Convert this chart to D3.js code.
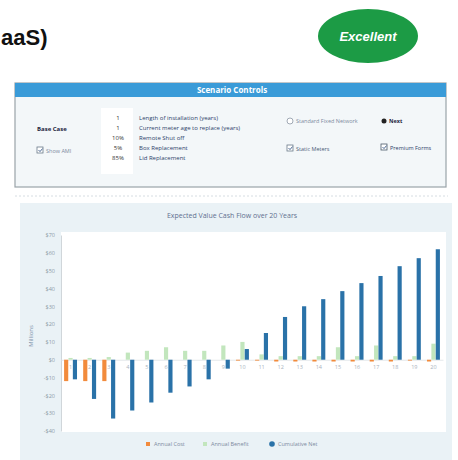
<!DOCTYPE html>
<html><head><meta charset="utf-8">
<script src="https://cdn.jsdelivr.net/npm/d3@7"></script>
<style>
html,body{margin:0;padding:0;background:#fff;}
svg{display:block;}
</style></head>
<body>
<svg id="c" width="458" height="460"></svg>
<script>
// ---- data ----
const years = d3.range(1, 21).map(String);
const annualCost    = [-12,-12,-12,0,0,0,0,0,0,-0.5,-0.5,-1,-1,-1,-1,-1,-1,-1,-0.5,-1];
const annualBenefit = [1,1,1.5,4,5,7,5,5,8,10,3,2,2,2,7,2,8,2,2,9];
const cumulativeNet = [-11,-22,-33,-28.5,-24,-18.5,-15,-11,-5,6,15,24,30,34,38.5,43,47,52.5,57,62];
const yTicks = [70,60,50,40,30,20,10,0,-10,-20,-30,-40];
const seriesNames = ["Annual Cost","Annual Benefit","Cumulative Net"];
const seriesColors = ["#f28b3c","#c2e6bd","#2a72a8"];
const controlRows = [
  ["1","Length of installation (years)"],
  ["1","Current meter age to replace (years)"],
  ["10%","Remote Shut off"],
  ["5%","Box Replacement"],
  ["85%","Lid Replacement"]
];

const svg = d3.select("#c");
const ui = "'Open Sans', 'Noto Sans', sans-serif";

// ---- header ----
svg.append("text").attr("x",1).attr("y",45).text("aaS)")
  .attr("font-family","'Liberation Sans', Arial, sans-serif").attr("font-weight","bold")
  .attr("font-size",22).attr("fill","#111");
svg.append("ellipse").attr("cx",368).attr("cy",36).attr("rx",50).attr("ry",27).attr("fill","#1c9b45");
svg.append("text").attr("x",368).attr("y",41).attr("text-anchor","middle").text("Excellent")
  .attr("font-family","'Liberation Sans', Arial, sans-serif").attr("font-weight","bold").attr("font-style","italic")
  .attr("font-size",13).attr("fill","#fff");

// ---- scenario controls panel ----
const p = svg.append("g");
p.append("rect").attr("x",15).attr("y",83).attr("width",431).attr("height",104)
  .attr("fill","#f3f7f9").attr("stroke","#9aa3a8").attr("stroke-width",1.2);
p.append("rect").attr("x",15).attr("y",83).attr("width",431).attr("height",14).attr("fill","#3a9bd8");
p.append("text").attr("x",232).attr("y",93).attr("text-anchor","middle").text("Scenario Controls")
  .attr("font-family",ui).attr("font-weight","bold").attr("font-size",8).attr("fill","#fff");
p.append("rect").attr("x",101).attr("y",108).attr("width",32).attr("height",66).attr("fill","#fff");
controlRows.forEach((r,i)=>{
  const y = 120 + i*10;
  p.append("text").attr("x",118).attr("y",y).attr("text-anchor","middle").text(r[0])
    .attr("font-family",ui).attr("font-size",6).attr("fill","#333");
  p.append("text").attr("x",139).attr("y",y).text(r[1])
    .attr("font-family",ui).attr("font-size",6).attr("fill","#2d3e6a");
});
p.append("text").attr("x",37).attr("y",131).text("Base Case")
  .attr("font-family",ui).attr("font-weight","bold").attr("font-size",6).attr("fill","#1b2340");
p.append("rect").attr("x",37).attr("y",147).attr("width",6).attr("height",6).attr("fill","#fff").attr("stroke","#6a7a8a").attr("stroke-width",0.8);
p.append("path").attr("d","M38.5,150 l1.5,1.6 l2.5,-3").attr("stroke","#3a5a8a").attr("fill","none").attr("stroke-width",0.9);
p.append("text").attr("x",46).attr("y",153).text("Show AMI")
  .attr("font-family",ui).attr("font-size",5.5).attr("fill","#7d8ba0");
p.append("circle").attr("cx",290).attr("cy",121).attr("r",3).attr("fill","#fff").attr("stroke","#8a96a3").attr("stroke-width",0.8);
p.append("text").attr("x",296).attr("y",123).text("Standard Fixed Network")
  .attr("font-family",ui).attr("font-size",5.5).attr("fill","#7d8ba0");
p.append("circle").attr("cx",384).attr("cy",121).attr("r",2.5).attr("fill","#222");
p.append("text").attr("x",389).attr("y",123).text("Next")
  .attr("font-family",ui).attr("font-weight","bold").attr("font-size",5.5).attr("fill","#1b2340");
p.append("rect").attr("x",287).attr("y",145).attr("width",6).attr("height",6).attr("fill","#fff").attr("stroke","#6a7a8a").attr("stroke-width",0.8);
p.append("path").attr("d","M288.5,148 l1.5,1.6 l2.5,-3").attr("stroke","#3a5a8a").attr("fill","none").attr("stroke-width",0.9);
p.append("text").attr("x",296).attr("y",151).text("Static Meters")
  .attr("font-family",ui).attr("font-size",5.5).attr("fill","#4a5a78");
p.append("rect").attr("x",381).attr("y",144).attr("width",6).attr("height",6).attr("fill","#fff").attr("stroke","#4a5a6a").attr("stroke-width",0.8);
p.append("path").attr("d","M382.5,147 l1.5,1.6 l2.5,-3").attr("stroke","#3a5a8a").attr("fill","none").attr("stroke-width",0.9);
p.append("text").attr("x",390).attr("y",150).text("Premium Forms")
  .attr("font-family",ui).attr("font-size",5.5).attr("fill","#2d3e6a");

svg.append("line").attr("x1",15).attr("x2",448).attr("y1",196).attr("y2",196)
  .attr("stroke","#d6dde2").attr("stroke-dasharray","2,2");

// ---- chart panel ----
svg.append("rect").attr("x",20).attr("y",203).attr("width",432).attr("height",260).attr("fill","#eaf2f6");
const plotL = 61, plotR = 446, plotT = 232, plotB = 432;
svg.append("rect").attr("x",plotL).attr("y",plotT).attr("width",plotR-plotL).attr("height",plotB-plotT).attr("fill","#fff");

svg.append("text").attr("x",232).attr("y",218).attr("text-anchor","middle")
  .text("Expected Value Cash Flow over 20 Years")
  .attr("font-family",ui).attr("font-size",7).attr("fill","#5f7090");

const y = d3.scaleLinear().domain([-40,70]).range([431,235]);
const x0 = d3.scaleBand().domain(years).range([61,443]).paddingInner(0.3).paddingOuter(0.15);
const x1 = d3.scaleBand().domain(seriesNames).range([0,x0.bandwidth()]).padding(0.05);

const yAxis = d3.axisLeft(y).tickValues(yTicks).tickSize(0).tickPadding(6)
  .tickFormat(d => (d<0?"-$":"$") + Math.abs(d));
const ya = svg.append("g").attr("transform",`translate(${plotL},0)`).call(yAxis);
ya.select(".domain").attr("stroke","#d0d6da");
ya.selectAll("text").attr("font-family",ui).attr("font-size",5.5).attr("fill","#8e9aa6");

svg.append("text").attr("transform","translate(33,336) rotate(-90)").attr("text-anchor","middle")
  .text("Millions").attr("font-family",ui).attr("font-size",6).attr("fill","#7d90a8");

// x axis labels at zero line
const xa = d3.axisBottom(x0).tickSize(0).tickPadding(5);
const xg = svg.append("g").attr("transform",`translate(0,${y(0)})`).call(xa);
xg.select(".domain").attr("stroke","#e4e8ea");
xg.selectAll("text").attr("font-family",ui).attr("font-size",5.5).attr("fill","#a9b3bd");

const series = [annualCost, annualBenefit, cumulativeNet];
series.forEach((vals,si)=>{
  svg.append("g").selectAll("rect").data(vals).enter().append("rect")
    .attr("x",(d,i)=>x0(years[i]) + x1(seriesNames[si]))
    .attr("width",x1.bandwidth())
    .attr("y",d=>y(Math.max(0,d)))
    .attr("height",d=>Math.abs(y(d)-y(0)))
    .attr("fill",seriesColors[si]);
});

// legend
const lg = svg.append("g").attr("font-family",ui).attr("font-size",5.5).attr("fill","#7d8ba0");
const lx = [146,203,270];
seriesNames.forEach((n,i)=>{
  if(i<2){
    lg.append("rect").attr("x",lx[i]).attr("y",442).attr("width",4).attr("height",4).attr("fill",seriesColors[i]);
  } else {
    lg.append("circle").attr("cx",lx[i]+2).attr("cy",444).attr("r",2.8).attr("fill",seriesColors[i]);
  }
  lg.append("text").attr("x",lx[i]+8).attr("y",446).text(n);
});
</script>
</body></html>
